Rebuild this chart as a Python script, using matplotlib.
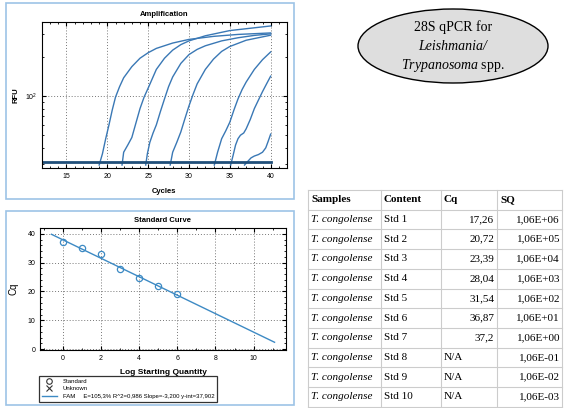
import matplotlib
matplotlib.use("Agg")
import matplotlib.pyplot as plt
from matplotlib.patches import Rectangle, Ellipse
from matplotlib.lines import Line2D
from matplotlib.ticker import MultipleLocator, FixedLocator, NullFormatter

plt.rcParams['font.family'] = ['Liberation Sans', 'DejaVu Sans']
plt.rcParams['mathtext.fontset'] = 'custom'
plt.rcParams['mathtext.it'] = 'Liberation Serif:italic'
plt.rcParams['mathtext.rm'] = 'Liberation Serif'

# Amplification curves (cycle, RFU)
amp_cycles = [
    [19.0, 19.4, 19.8, 20.2, 20.6, 21.0, 21.5, 22, 23, 24, 25, 26, 28, 30, 33, 36, 40],
    [21.8, 22.0, 22.5, 23.0, 23.5, 24, 24.5, 25, 26, 27, 28, 29, 30, 32, 35, 40],
    [24.7, 24.9, 25.2, 25.6, 26, 26.5, 27, 27.5, 28, 29, 30, 31, 32, 34, 36, 38, 40],
    [27.7, 28.0, 28.5, 29, 29.5, 30, 30.5, 31, 32, 33, 34, 35, 37, 40],
    [33.1, 33.5, 34, 34.5, 35, 35.5, 36, 36.5, 37, 38, 39, 40],
    [35.1, 35.4, 35.7, 36.0, 36.3, 36.7, 37, 37.5, 38, 38.5, 39, 39.5, 40],
    [36.8, 37.2, 37.6, 38, 38.5, 39, 39.4, 39.7, 40],
]
amp_rfu = [
    [29.5, 36, 47, 60, 78, 98, 118, 138, 168, 195, 215, 232, 255, 272, 287, 297, 305],
    [29.5, 37, 42, 48, 62, 80, 98, 115, 160, 195, 225, 248, 265, 290, 318, 345],
    [29.5, 36, 44, 52, 60, 76, 95, 118, 140, 178, 208, 228, 243, 265, 280, 292, 300],
    [29.5, 37, 44, 53, 67, 84, 103, 124, 160, 192, 220, 240, 268, 293],
    [29.5, 37, 47, 54, 63, 78, 95, 112, 128, 160, 190, 218],
    [29.5, 35, 42, 47, 50, 52, 56, 66, 80, 93, 108, 124, 142],
    [29.5, 31.5, 33.5, 34.6, 35.5, 37, 40, 45, 51],
]
baseline_cycles = [12, 40]
baseline_rfu = [31, 31]

# Standard curve
log_sq = [0, 1, 2, 3, 4, 5, 6]
std_cq = [37.1, 35.1, 33.0, 27.7, 24.8, 21.8, 19.1]
slope = -3.200
y_int = 37.902
fit_x = [-0.6, 11.1]
fit_label = "FAM     E=105,3% R^2=0,986 Slope=-3,200 y-int=37,902"

# Table
col_names = ["Samples", "Content", "Cq", "SQ"]
samples = ["T. congolense"] * 10
contents = ["Std 1", "Std 2", "Std 3", "Std 4", "Std 5", "Std 6", "Std 7", "Std 8", "Std 9", "Std 10"]
cq_vals = ["17,26", "20,72", "23,39", "28,04", "31,54", "36,87", "37,2", "N/A", "N/A", "N/A"]
sq_vals = ["1,06E+06", "1,06E+05", "1,06E+04", "1,06E+03", "1,06E+02",
           "1,06E+01", "1,06E+00", "1,06E-01", "1,06E-02", "1,06E-03"]

W, H = 564, 408
fig = plt.figure(figsize=(W / 100, H / 100), dpi=100)


def frac(left, top, right, bottom):
    return [left / W, 1 - bottom / H, (right - left) / W, (bottom - top) / H]


curve_col = "#3a78b5"
tick_fs = 5

# ---- Amplification
ax1 = fig.add_axes(frac(42, 22, 287, 168))
for cx, cy in zip(amp_cycles, amp_rfu):
    ax1.plot(cx, cy, color=curve_col, lw=1.0)
ax1.plot(baseline_cycles, baseline_rfu, color="#1f4e79", lw=2)
ax1.set_yscale('log')
ax1.set_xlim(12, 42)
ax1.set_ylim(28, 370)
ax1.xaxis.set_minor_locator(MultipleLocator(1))
ax1.set_xticks([15, 20, 25, 30, 35, 40])
ax1.yaxis.set_major_locator(FixedLocator([100]))
ax1.set_yticklabels(["$\\mathregular{10^2}$"])
ax1.yaxis.set_minor_locator(FixedLocator([30, 40, 50, 60, 70, 80, 90, 200, 300]))
ax1.yaxis.set_minor_formatter(NullFormatter())
ax1.grid(True, which='major', linestyle=(0, (1, 2)), color="#777777", lw=0.7)
ax1.tick_params(which='both', direction='in', top=True, right=True, labelsize=tick_fs)
ax1.tick_params(which='major', length=3)
ax1.tick_params(which='minor', length=1.5)
ax1.set_title("Amplification", fontsize=5.5, fontweight='bold', pad=4)
ax1.set_xlabel("Cycles", fontsize=5.5, fontweight='bold', labelpad=6)
ax1.set_ylabel("RFU", fontsize=5.5, fontweight='bold', labelpad=4)

# ---- Standard curve
ax2 = fig.add_axes(frac(40, 228, 286, 350))
ax2.plot(fit_x, [y_int + slope * x for x in fit_x], color="#3d8ac4", lw=1.0)
ax2.plot(log_sq, std_cq, linestyle='none', marker='o', markersize=4.5,
         markerfacecolor='none', markeredgecolor="#3d8ac4", mew=0.9)
ax2.set_xlim(-1.2, 11.7)
ax2.set_ylim(-0.3, 42)
ax2.xaxis.set_major_locator(MultipleLocator(2))
ax2.xaxis.set_minor_locator(MultipleLocator(1))
ax2.yaxis.set_major_locator(MultipleLocator(10))
ax2.yaxis.set_minor_locator(MultipleLocator(2))
ax2.grid(True, which='major', linestyle=(0, (1, 2)), color="#777777", lw=0.7)
ax2.tick_params(which='both', direction='in', top=True, right=True, labelsize=tick_fs)
ax2.tick_params(which='major', length=3)
ax2.tick_params(which='minor', length=1.5)
ax2.set_title("Standard Curve", fontsize=5.5, fontweight='bold', pad=4)
ax2.set_xlabel("Log Starting Quantity", fontsize=6, fontweight='bold', labelpad=5)
ax2.set_ylabel("Cq", fontsize=7, labelpad=6)

handles = [
    Line2D([], [], linestyle='none', marker='o', markerfacecolor='none',
           markeredgecolor='#333333', markersize=4, mew=0.8),
    Line2D([], [], linestyle='none', marker='x', color='#333333',
           markersize=5, mew=0.8),
    Line2D([], [], color="#3d8ac4", lw=1),
]
leg = fig.legend(handles, ["Standard", "Unknown", fit_label], loc='upper left',
                 bbox_to_anchor=(39 / W, 1 - 376 / H), fontsize=4.3,
                 fancybox=False, edgecolor='#333333', framealpha=1,
                 handlelength=2.6, borderpad=0.45, labelspacing=0.4,
                 handletextpad=0.9, borderaxespad=0)
leg.get_frame().set_linewidth(0.9)

# ---- overlay in pixel units: panel borders, bubble, table
ov = fig.add_axes([0, 0, 1, 1])
ov.set_xlim(0, W)
ov.set_ylim(H, 0)
ov.axis('off')
ov.patch.set_alpha(0)
for top, bot in [(3, 199), (211, 405)]:
    ov.add_patch(Rectangle((6, top), 288, bot - top, fill=False,
                           edgecolor="#9dc3e6", lw=1.2))

ov.add_patch(Ellipse((453, 46), 190, 74, facecolor="#dedede",
                     edgecolor='black', lw=1))
serif = 'Liberation Serif'
efs = 10
ov.text(453, 27, "28S qPCR for", family=serif, fontsize=efs, ha='center', va='center')
ov.text(453, 46, "Leishmania/", family=serif, style='italic', fontsize=efs,
        ha='center', va='center')
ov.text(453, 65, "$\\it{Trypanosoma}$ spp.", family=serif, fontsize=efs,
        ha='center', va='center')

col_x = [308, 381, 441, 497, 562]
row_h = 19.7
t_top = 190
n_rows = len(contents) + 1
line_col = "#cccccc"
for i in range(n_rows + 1):
    ov.plot([col_x[0], col_x[-1]], [t_top + i * row_h] * 2, color=line_col, lw=0.8)
for xv in col_x:
    ov.plot([xv, xv], [t_top, t_top + n_rows * row_h], color=line_col, lw=0.8)

fs = 8
for j, name in enumerate(col_names):
    ov.text(col_x[j] + 3, t_top + row_h / 2, name, family=serif, fontweight='bold',
            fontsize=fs, ha='left', va='center')
for i in range(len(contents)):
    yc = t_top + (i + 1.5) * row_h
    ov.text(col_x[0] + 3, yc, samples[i], family=serif, style='italic',
            fontsize=fs, ha='left', va='center')
    ov.text(col_x[1] + 3, yc, contents[i], family=serif, fontsize=fs,
            ha='left', va='center')
    if cq_vals[i] == "N/A":
        ov.text(col_x[2] + 3, yc, cq_vals[i], family=serif, fontsize=fs,
                ha='left', va='center')
    else:
        ov.text(col_x[3] - 3, yc, cq_vals[i], family=serif, fontsize=fs,
                ha='right', va='center')
    ov.text(col_x[4] - 2, yc, sq_vals[i], family=serif, fontsize=fs,
            ha='right', va='center')

fig.savefig("out.png", dpi=100)
